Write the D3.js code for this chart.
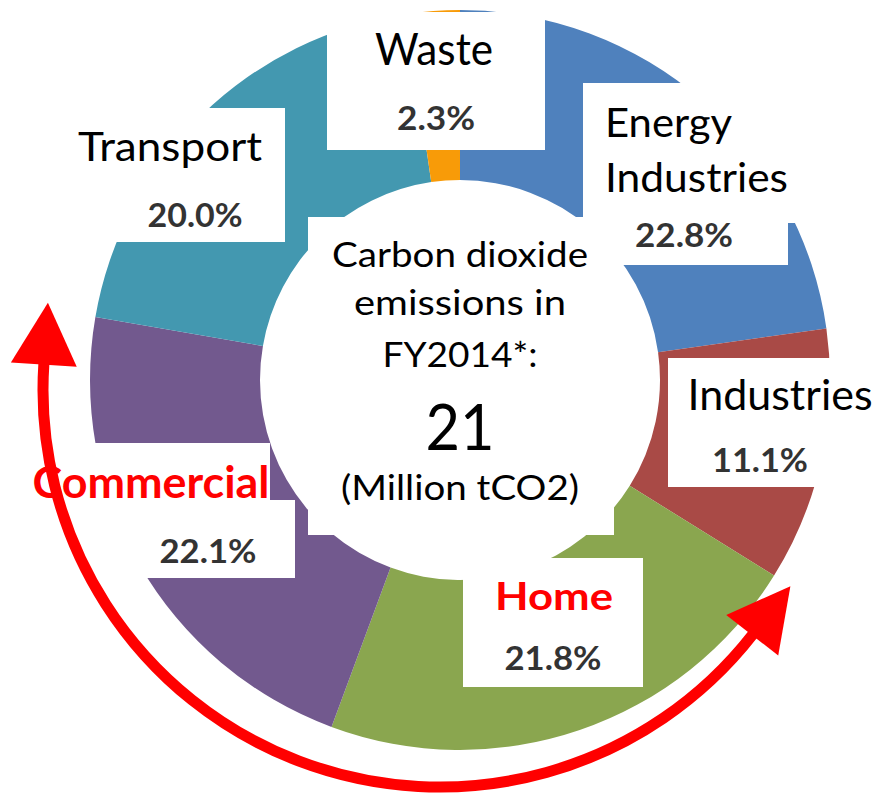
<!DOCTYPE html>
<meta charset="utf-8">
<head>
	<title>Carbon dioxide emissions FY2014</title>
	<style>
		body { margin: 0; background: #fff; }
		svg { display: block; font-family: Lato, "Open Sans", sans-serif; }
		.box { fill: #fff; }
		.name { fill: #000; }
		.hot { fill: #ff0000; font-weight: bold; }
		.pct { fill: #333; font-weight: bold; }
		.centerText { fill: #000; }
	</style>
	<script src="https://cdn.jsdelivr.net/npm/d3@7"></script>
</head>
<body>
<div id="chart"></div>
<script>
	// data, clockwise from 12 o'clock
	const sectors = ["Energy Industries", "Industries", "Home", "Commercial", "Transport", "Waste"];
	const shares = [22.8, 11.1, 21.8, 22.1, 20.0, 2.3];
	const sectorColors = ["#4f81bd", "#a94a46", "#8aa64f", "#72598e", "#4398b0", "#f89b08"];
	const highlighted = ["Home", "Commercial"];

	const centerLines = ["Carbon dioxide", "emissions in", "FY2014*:"];
	const totalValue = "21";
	const totalUnit = "(Million tCO2)";

	const W = 879, H = 795, CX = 460, CY = 380, R_OUT = 370, R_IN = 200;

	// white label boxes + text anchors (x, baseline, width)
	const layout = {
		"Energy Industries": { boxes: [[583, 83, 805, 223], [600, 223, 788, 265]], anchor: "start", size: 40,
			lines: [["Energy", 605, 137, 127], ["Industries", 605, 192, 183]], pct: [684, 247, 98] },
		"Industries": { boxes: [[668, 358, 879, 487]], anchor: "middle", size: 42,
			lines: [["Industries", 780, 410, 185]], pct: [760, 472, 96] },
		"Home": { boxes: [[463, 558, 643, 687]], anchor: "middle", size: 39,
			lines: [["Home", 554, 610, 118]], pct: [553, 670, 97] },
		"Commercial": { boxes: [[20, 443, 270, 500], [100, 500, 295, 578]], anchor: "middle", size: 43,
			lines: [["Commercial", 151, 498, 237]], pct: [208, 563, 97] },
		"Transport": { boxes: [[60, 108, 285, 242]], anchor: "middle", size: 40,
			lines: [["Transport", 170, 161, 184]], pct: [195, 227, 95] },
		"Waste": { boxes: [[327, 12, 545, 150]], anchor: "middle", size: 44,
			lines: [["Waste", 434, 65, 118]], pct: [436, 130, 78] }
	};

	const svg = d3.select("#chart").append("svg")
		.attr("width", W).attr("height", H)
		.attr("viewBox", [0, 0, W, H]);

	const color = d3.scaleOrdinal().domain(sectors).range(sectorColors);
	const fmt = d3.format(".1f");

	const pieData = d3.pie().sort(null).value(d => d.value)
		(sectors.map((s, i) => ({ name: s, value: shares[i] })));

	const arc = d3.arc().innerRadius(R_IN).outerRadius(R_OUT);

	// donut
	svg.append("g").attr("transform", `translate(${CX},${CY})`)
		.selectAll("path").data(pieData).join("path")
		.attr("d", arc)
		.attr("fill", d => color(d.data.name));

	// label boxes
	const boxG = svg.append("g");
	pieData.forEach(d => {
		layout[d.data.name].boxes.forEach(b => {
			boxG.append("rect").attr("class", "box")
				.attr("x", b[0]).attr("y", b[1]).attr("width", b[2] - b[0]).attr("height", b[3] - b[1]);
		});
	});
	// center box
	boxG.append("rect").attr("class", "box").attr("x", 308).attr("y", 217).attr("width", 306).attr("height", 318);

	// labels
	const labelG = svg.append("g");
	pieData.forEach(d => {
		const L = layout[d.data.name];
		const hot = highlighted.includes(d.data.name);
		L.lines.forEach(l => {
			labelG.append("text")
				.attr("class", hot ? "hot" : "name")
				.attr("x", l[1]).attr("y", l[2])
				.attr("text-anchor", L.anchor)
				.attr("font-size", L.size)
				.attr("textLength", l[3]).attr("lengthAdjust", "spacingAndGlyphs")
				.text(l[0]);
		});
		labelG.append("text").attr("class", "pct")
			.attr("x", L.pct[0]).attr("y", L.pct[1])
			.attr("text-anchor", "middle")
			.attr("font-size", 33)
			.attr("textLength", L.pct[2]).attr("lengthAdjust", "spacingAndGlyphs")
			.text(fmt(d.data.value) + "%");
	});

	// center text
	const centerG = svg.append("g").attr("class", "centerText").attr("text-anchor", "middle");
	const centerBase = [267, 315, 367];
	const centerLen = [256, 212, 155];
	centerLines.forEach((t, i) => {
		centerG.append("text").attr("x", CX).attr("y", centerBase[i])
			.attr("font-size", 34)
			.attr("textLength", centerLen[i]).attr("lengthAdjust", "spacingAndGlyphs")
			.text(t);
	});
	centerG.append("text").attr("x", CX).attr("y", 450).attr("font-size", 63)
		.attr("textLength", 69).attr("lengthAdjust", "spacingAndGlyphs").text(totalValue);
	centerG.append("text").attr("x", CX).attr("y", 500).attr("font-size", 34)
		.attr("textLength", 238).attr("lengthAdjust", "spacingAndGlyphs").text(totalUnit);

	// red double-headed arrow round the Home + Commercial slices
	const defs = svg.append("defs");
	defs.append("marker").attr("id", "head")
		.attr("markerUnits", "userSpaceOnUse")
		.attr("markerWidth", 70).attr("markerHeight", 70)
		.attr("refX", 1).attr("refY", 33)
		.attr("orient", "auto-start-reverse")
		.style("overflow", "visible")
		.append("path").attr("d", "M0,0L62,33L0,66Z").attr("fill", "#ff0000");

	const deg = Math.PI / 180;
	const p = d3.path();
	p.arc(440, 390, 397, 183.8 * deg, 38 * deg, true);
	svg.append("path")
		.attr("d", p.toString())
		.attr("fill", "none")
		.attr("stroke", "#ff0000")
		.attr("stroke-width", 11)
		.attr("marker-start", "url(#head)")
		.attr("marker-end", "url(#head)");
</script>
</body>
